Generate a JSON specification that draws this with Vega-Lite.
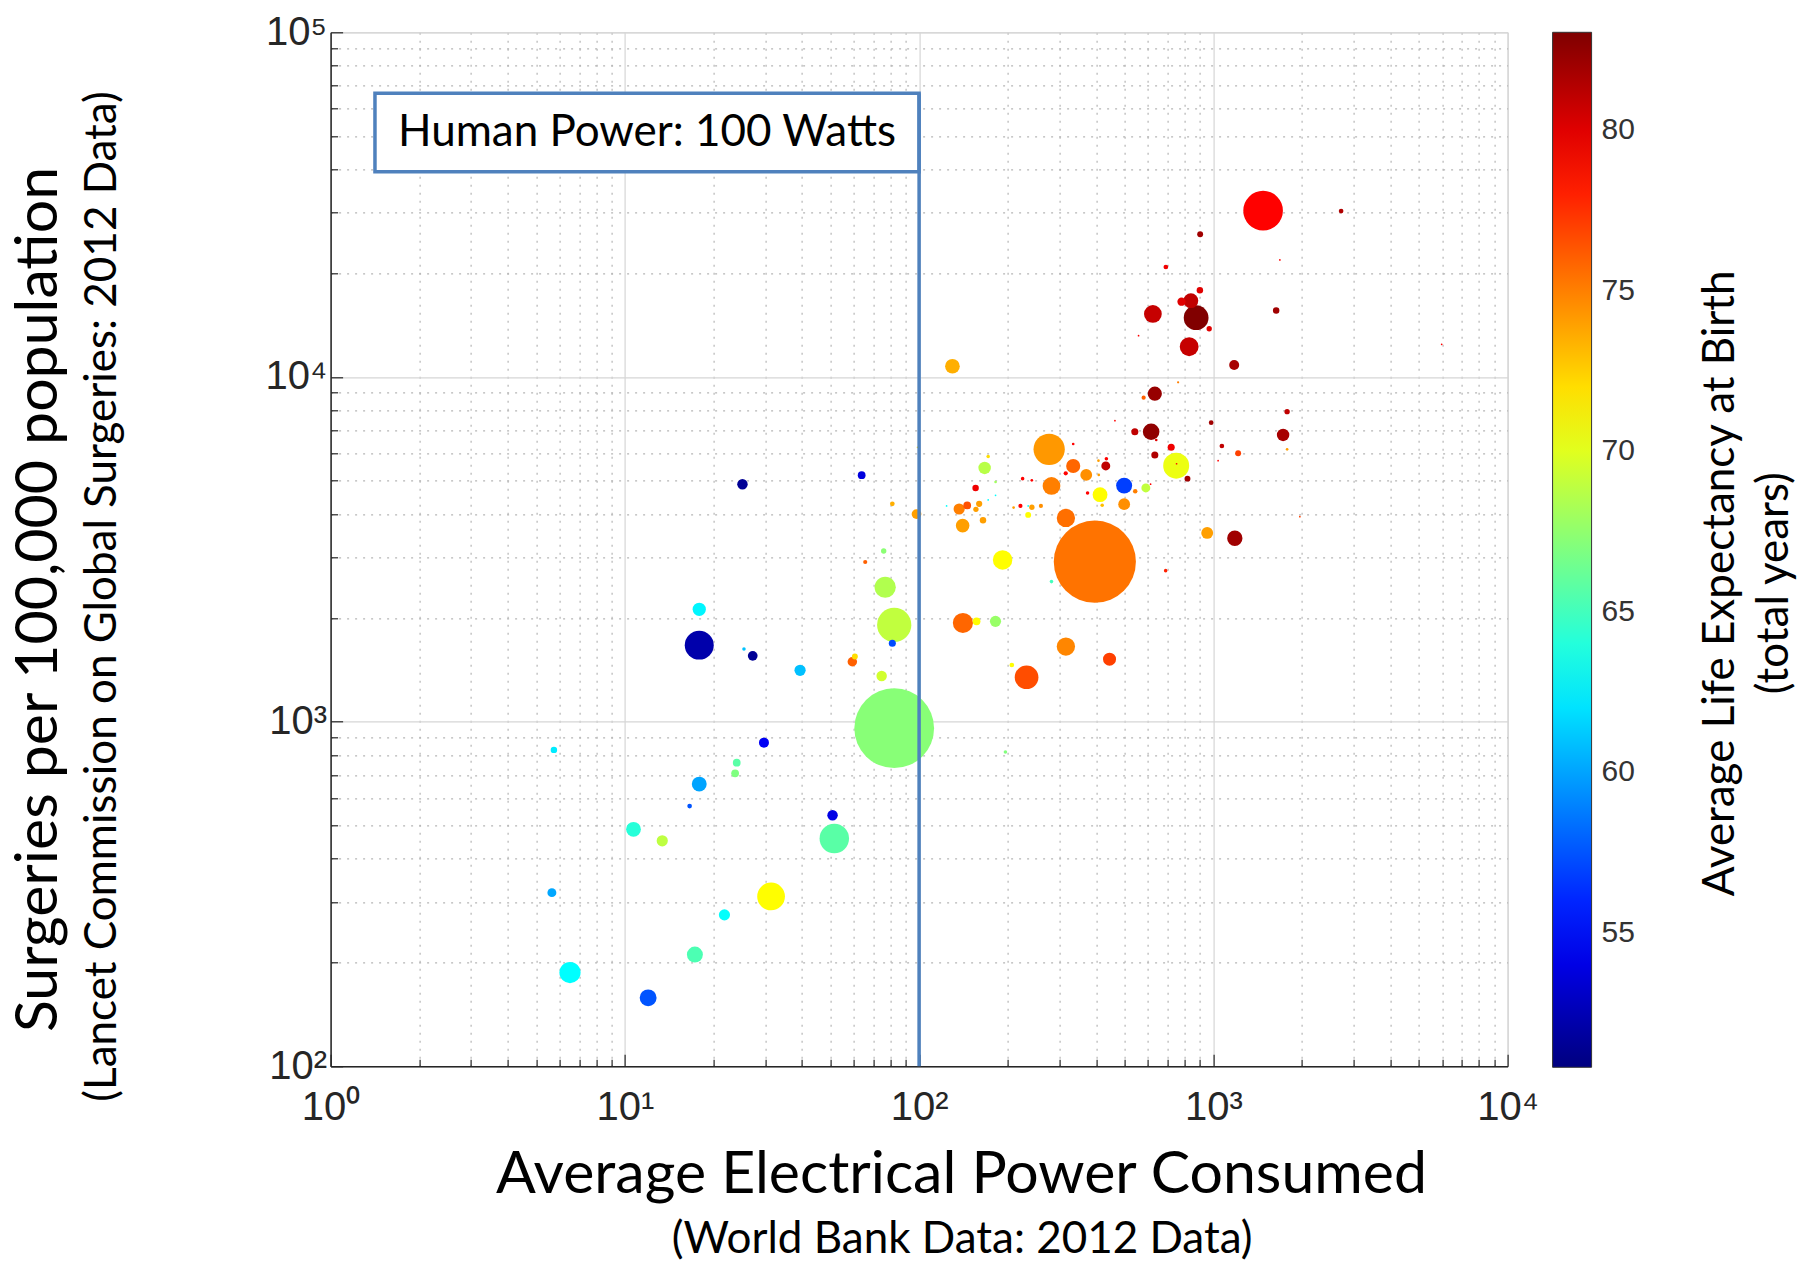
{
  "$schema": "https://vega.github.io/schema/vega-lite/v6.json",
  "width": 1177,
  "height": 1034,
  "autosize": "none",
  "padding": {"left": 330.6, "top": 32.3, "right": 298.4, "bottom": 195.4},
  "background": "white",
  "config": {
    "view": {"stroke": "#cfcfcf", "strokeWidth": 1},
    "font": "Lato"
  },
  "title": {
    "text": ["Average Life Expectancy at Birth", "(total years)"],
    "orient": "right", "anchor": "middle", "frame": "group",
    "angle": 270, "baseline": "alphabetic", "align": "center",
    "offset": 0, "dx": -34,
    "font": "Lato", "fontSize": 44, "fontWeight": "normal", "color": "black",
    "lineHeight": 54
  },
  "resolve": {"axis": {"x": "independent", "y": "independent"}},
  "layer": [
    {
      "data": {"values": [
        {"p":25.1,"s":4885,"le":51.5,"pop":22},
        {"p":63.8,"s":5188,"le":53.8,"pop":12},
        {"p":81.1,"s":4285,"le":73.5,"pop":4.4},
        {"p":98,"s":4000,"le":74,"pop":19},
        {"p":75.8,"s":3126,"le":67.3,"pop":5.7},
        {"p":65.6,"s":2905,"le":76,"pop":3.5},
        {"p":76.7,"s":2454,"le":68.5,"pop":90},
        {"p":82.3,"s":1908,"le":69,"pop":235},
        {"p":81.1,"s":1688,"le":57.2,"pop":10},
        {"p":17.9,"s":2118,"le":62.6,"pop":35},
        {"p":17.9,"s":1667,"le":52.2,"pop":168},
        {"p":25.4,"s":1625,"le":61,"pop":2.5},
        {"p":27.2,"s":1552,"le":51.5,"pop":19},
        {"p":39.4,"s":1409,"le":60.9,"pop":25},
        {"p":60.5,"s":1545,"le":72,"pop":7},
        {"p":59.3,"s":1492,"le":76,"pop":18},
        {"p":74.6,"s":1357,"le":69.5,"pop":22},
        {"p":82.3,"s":957,"le":67.2,"pop":1272},
        {"p":29.7,"s":869,"le":54.5,"pop":20},
        {"p":5.74,"s":828,"le":62.3,"pop":8.4},
        {"p":24,"s":760,"le":65.7,"pop":12},
        {"p":23.7,"s":708,"le":66.9,"pop":12},
        {"p":17.9,"s":659,"le":60,"pop":44},
        {"p":16.6,"s":569,"le":57.5,"pop":4.4},
        {"p":50.8,"s":535,"le":54,"pop":22},
        {"p":51.5,"s":458,"le":65.7,"pop":174},
        {"p":10.7,"s":487,"le":64.1,"pop":44},
        {"p":13.4,"s":451,"le":68.9,"pop":25},
        {"p":5.65,"s":319,"le":60.1,"pop":16},
        {"p":31.4,"s":311,"le":71,"pop":154},
        {"p":21.8,"s":275,"le":63,"pop":25},
        {"p":17.3,"s":211,"le":65.3,"pop":51},
        {"p":6.51,"s":187,"le":62.9,"pop":90},
        {"p":12.0,"s":158,"le":57.5,"pop":57},
        {"p":276.7,"s":6167,"le":74.2,"pop":196},
        {"p":334,"s":5518,"le":75.8,"pop":40},
        {"p":369.8,"s":5198,"le":74.5,"pop":28},
        {"p":334,"s":6390,"le":79,"pop":1.4},
        {"p":315,"s":5253,"le":79,"pop":3.5},
        {"p":431,"s":5518,"le":81,"pop":16},
        {"p":433,"s":5794,"le":79,"pop":2.5},
        {"p":407,"s":5717,"le":74,"pop":1.4},
        {"p":408,"s":5198,"le":74,"pop":1.4},
        {"p":281.8,"s":4828,"le":75,"pop":63},
        {"p":224.8,"s":5070,"le":79,"pop":2.5},
        {"p":241.6,"s":5012,"le":79,"pop":1.4},
        {"p":373.7,"s":4608,"le":79,"pop":2.5},
        {"p":412,"s":4556,"le":71,"pop":44},
        {"p":419,"s":4246,"le":73,"pop":2.5},
        {"p":497.6,"s":4839,"le":56.8,"pop":51},
        {"p":542.6,"s":4660,"le":75,"pop":4},
        {"p":589.6,"s":4764,"le":69,"pop":16},
        {"p":497.6,"s":4275,"le":74.5,"pop":28},
        {"p":747.6,"s":5529,"le":70.4,"pop":135},
        {"p":750,"s":5600,"le":79,"pop":0.6},
        {"p":816.8,"s":5070,"le":82,"pop":7},
        {"p":719,"s":6250,"le":79.5,"pop":10},
        {"p":632.6,"s":5939,"le":81.5,"pop":10},
        {"p":614.6,"s":6935,"le":82.5,"pop":55},
        {"p":541,"s":6935,"le":81,"pop":10},
        {"p":639.6,"s":6561,"le":80,"pop":1.4},
        {"p":463,"s":7466,"le":79,"pop":0.6},
        {"p":167,"s":5445,"le":68.7,"pop":31},
        {"p":171.7,"s":5874,"le":72,"pop":2.5},
        {"p":181.9,"s":4958,"le":68,"pop":1.4},
        {"p":155.6,"s":4764,"le":79.5,"pop":8.4},
        {"p":181.9,"s":4536,"le":63,"pop":0.6},
        {"p":171.7,"s":4399,"le":63,"pop":0.6},
        {"p":124,"s":4225,"le":63,"pop":0.6},
        {"p":136.8,"s":4140,"le":75,"pop":25},
        {"p":145.7,"s":4238,"le":76.5,"pop":12},
        {"p":156,"s":4131,"le":74,"pop":5.7},
        {"p":160,"s":4285,"le":74,"pop":7.7},
        {"p":140.6,"s":3705,"le":74,"pop":37},
        {"p":164.9,"s":3837,"le":74,"pop":8.4},
        {"p":221,"s":4225,"le":79,"pop":3.5},
        {"p":209.5,"s":4178,"le":74,"pop":1.4},
        {"p":234.8,"s":4225,"le":63,"pop":0.6},
        {"p":241.7,"s":4187,"le":74,"pop":5.7},
        {"p":259.4,"s":4225,"le":74.5,"pop":3.5},
        {"p":234.8,"s":3979,"le":71,"pop":7},
        {"p":315.4,"s":3899,"le":75.5,"pop":67},
        {"p":395.6,"s":2911,"le":75.4,"pop":1349},
        {"p":281.8,"s":2548,"le":65,"pop":2.5},
        {"p":192.2,"s":2945,"le":71,"pop":76},
        {"p":688.5,"s":2742,"le":78,"pop":2.5},
        {"p":140.9,"s":1933,"le":75.8,"pop":81},
        {"p":156.8,"s":1954,"le":71,"pop":12},
        {"p":181.8,"s":1954,"le":67.7,"pop":25},
        {"p":315.4,"s":1651,"le":74.8,"pop":67},
        {"p":443.8,"s":1518,"le":77,"pop":34},
        {"p":231.9,"s":1345,"le":76.6,"pop":112},
        {"p":206.6,"s":1460,"le":71,"pop":4.4},
        {"p":196.5,"s":816,"le":67,"pop":2.5},
        {"p":98.8,"s":6250,"le":72,"pop":0.6},
        {"p":612,"s":4885,"le":79,"pop":0.6},
        {"p":129.8,"s":10740,"le":73.5,"pop":43},
        {"p":1476,"s":30370,"le":79,"pop":314},
        {"p":2718,"s":30290,"le":81.5,"pop":4.4},
        {"p":902,"s":25940,"le":82,"pop":7},
        {"p":1683,"s":21850,"le":79,"pop":0.6},
        {"p":689.6,"s":20850,"le":79.5,"pop":4.4},
        {"p":900,"s":17850,"le":80,"pop":8.4},
        {"p":838.6,"s":16650,"le":81,"pop":44},
        {"p":779.5,"s":16530,"le":80,"pop":13.6},
        {"p":874,"s":14860,"le":83,"pop":123},
        {"p":968,"s":13800,"le":80,"pop":5.7},
        {"p":623,"s":15230,"le":80.8,"pop":63},
        {"p":827.6,"s":12240,"le":80.8,"pop":71},
        {"p":557,"s":13180,"le":79,"pop":0.6},
        {"p":1635,"s":15590,"le":82,"pop":8.4},
        {"p":1177,"s":10830,"le":81.8,"pop":20},
        {"p":632.6,"s":8946,"le":82.3,"pop":40},
        {"p":579.5,"s":8710,"le":76,"pop":3.5},
        {"p":759,"s":9652,"le":75,"pop":1},
        {"p":983,"s":7370,"le":82,"pop":4.4},
        {"p":1781,"s":7930,"le":81,"pop":5.7},
        {"p":1726,"s":6790,"le":81.8,"pop":31},
        {"p":1781,"s":6167,"le":74,"pop":1.4},
        {"p":1069,"s":6305,"le":81,"pop":4.4},
        {"p":1214,"s":6005,"le":77,"pop":7},
        {"p":1038,"s":5717,"le":79,"pop":0.6},
        {"p":1968,"s":3933,"le":77,"pop":0.6},
        {"p":953,"s":3527,"le":74,"pop":28},
        {"p":1183,"s":3404,"le":82,"pop":47},
        {"p":5970,"s":12440,"le":79,"pop":0.6}
      ]},
      "mark": {"type": "circle", "opacity": 1, "strokeWidth": 0},
      "encoding": {
        "x": {
          "field": "p", "type": "quantitative",
          "scale": {"type": "log", "domain": [1, 10000], "nice": false},
          "axis": {
            "orient": "bottom",
            "title": "Average Electrical Power Consumed",
            "titleFont": "Lato", "titleFontSize": 59, "titleFontWeight": "normal", "titleColor": "black",
            "titleX": 630.4, "titleY": 126.4, "titleBaseline": "alphabetic", "titleAlign": "center",
            "values": [1,2,3,4,5,6,7,8,9,10,20,30,40,50,60,70,80,90,100,200,300,400,500,600,700,800,900,1000,2000,3000,4000,5000,6000,7000,8000,9000,10000],
            "labelExpr": "abs(log(datum.value)/LN10 - round(log(datum.value)/LN10)) < 0.001 ? '10' + ['⁰','¹','²','³','⁴','⁵'][round(log(datum.value)/LN10)] : ''",
            "labelFont": "Liberation Sans", "labelFontSize": 40, "labelColor": "#262626",
            "labelPadding": 33, "labelFlush": false, "labelOverlap": false, "labelBound": false,
            "domainColor": "#262626", "domainWidth": 1.5,
            "tickColor": "#262626", "tickWidth": 1.2,
            "tickSize": {"condition": {"test": "abs(log(datum.value)/LN10 - round(log(datum.value)/LN10)) < 0.001", "value": -12}, "value": -7},
            "grid": true,
            "gridColor": {"condition": {"test": "abs(log(datum.value)/LN10 - round(log(datum.value)/LN10)) < 0.001", "value": "#d6d6d6"}, "value": "#b5b5b5"},
            "gridDash": {"condition": {"test": "abs(log(datum.value)/LN10 - round(log(datum.value)/LN10)) < 0.001", "value": []}, "value": [2, 6]},
            "gridWidth": 1.2
          }
        },
        "y": {
          "field": "s", "type": "quantitative",
          "scale": {"type": "log", "domain": [100, 100000], "nice": false},
          "axis": {
            "orient": "left",
            "title": "Surgeries per 100,000 population",
            "titleFont": "Lato", "titleFontSize": 59, "titleFontWeight": "normal", "titleColor": "black",
            "titleX": -274, "titleY": 566.7, "titleAngle": 270, "titleBaseline": "alphabetic", "titleAlign": "center",
            "values": [100,200,300,400,500,600,700,800,900,1000,2000,3000,4000,5000,6000,7000,8000,9000,10000,20000,30000,40000,50000,60000,70000,80000,90000,100000],
            "labelExpr": "abs(log(datum.value)/LN10 - round(log(datum.value)/LN10)) < 0.001 ? '10' + ['⁰','¹','²','³','⁴','⁵'][round(log(datum.value)/LN10)] : ''",
            "labelFont": "Liberation Sans", "labelFontSize": 40, "labelColor": "#262626",
            "labelPadding": 16, "labelFlush": false, "labelOverlap": false, "labelBound": false,
            "domainColor": "#262626", "domainWidth": 1.5,
            "tickColor": "#262626", "tickWidth": 1.2,
            "tickSize": {"condition": {"test": "abs(log(datum.value)/LN10 - round(log(datum.value)/LN10)) < 0.001", "value": -12}, "value": -7},
            "grid": true,
            "gridColor": {"condition": {"test": "abs(log(datum.value)/LN10 - round(log(datum.value)/LN10)) < 0.001", "value": "#d6d6d6"}, "value": "#b5b5b5"},
            "gridDash": {"condition": {"test": "abs(log(datum.value)/LN10 - round(log(datum.value)/LN10)) < 0.001", "value": []}, "value": [2, 6]},
            "gridWidth": 1.2
          }
        },
        "size": {
          "field": "pop", "type": "quantitative",
          "scale": {"type": "linear", "domain": [0, 1400], "range": [0, 7000], "zero": true},
          "legend": null
        },
        "color": {
          "field": "le", "type": "quantitative",
          "scale": {
            "domain": [50.8, 54.83, 62.89, 70.96, 79.02, 83.05],
            "range": ["#00007f", "#0000ff", "#00ffff", "#ffff00", "#ff0000", "#7f0000"],
            "interpolate": "rgb"
          },
          "legend": {
            "orient": "none", "legendX": 1222, "legendY": 0,
            "direction": "vertical",
            "gradientLength": 1035, "gradientThickness": 39,
            "gradientStrokeColor": "#333333", "gradientStrokeWidth": 1,
            "values": [55, 60, 65, 70, 75, 80],
            "labelFont": "Liberation Sans", "labelFontSize": 30, "labelColor": "#333333",
            "labelOffset": 10, "labelOverlap": false,
            "title": null
          }
        },
        "order": {"field": "pop", "type": "quantitative", "sort": "descending"}
      }
    },
    {
      "data": {"values": [{"label": "Human Power: 100 Watts", "xl": 1.415, "xr": 100, "ytop": 66530, "ybot": 39410, "yfloor": 100, "xt": 11.89, "yt": 51000}]},
      "mark": {"type": "rect", "fill": "white", "stroke": "#4f81bd", "strokeWidth": 3.5},
      "encoding": {
        "x": {
          "field": "xl", "type": "quantitative",
          "scale": {"type": "log", "domain": [1, 10000], "nice": false},
          "axis": {
            "orient": "bottom", "title": "(World Bank Data: 2012 Data)",
            "labels": false, "ticks": false, "domain": false, "grid": false,
            "titleFont": "Lato", "titleFontSize": 44, "titleFontWeight": "normal", "titleColor": "black",
            "titleX": 631, "titleY": 186, "titleBaseline": "alphabetic", "titleAlign": "center"
          }
        },
        "x2": {"field": "xr"},
        "y": {
          "field": "ytop", "type": "quantitative",
          "scale": {"type": "log", "domain": [100, 100000], "nice": false},
          "axis": {
            "orient": "left", "title": "(Lancet Commission on Global Surgeries: 2012 Data)",
            "labels": false, "ticks": false, "domain": false, "grid": false,
            "titleFont": "Lato", "titleFontSize": 44, "titleFontWeight": "normal", "titleColor": "black",
            "titleX": -215.6, "titleY": 563.7, "titleAngle": 270, "titleBaseline": "alphabetic", "titleAlign": "center"
          }
        },
        "y2": {"field": "ybot"}
      }
    },
    {
      "data": {"values": [{"label": "Human Power: 100 Watts", "xl": 1.415, "xr": 100, "ytop": 66530, "ybot": 39410, "yfloor": 100, "xt": 11.89, "yt": 51000}]},
      "mark": {"type": "rule", "color": "#4f81bd", "strokeWidth": 3.5},
      "encoding": {
        "x": {"field": "xr", "type": "quantitative", "scale": {"type": "log", "domain": [1, 10000], "nice": false}, "axis": null},
        "y": {"field": "ytop", "type": "quantitative", "scale": {"type": "log", "domain": [100, 100000], "nice": false}, "axis": null},
        "y2": {"field": "yfloor"}
      }
    },
    {
      "data": {"values": [{"label": "Human Power: 100 Watts", "xl": 1.415, "xr": 100, "ytop": 66530, "ybot": 39410, "yfloor": 100, "xt": 11.89, "yt": 51000}]},
      "mark": {"type": "text", "font": "Lato", "fontSize": 44, "color": "black", "align": "center", "baseline": "middle"},
      "encoding": {
        "x": {"field": "xt", "type": "quantitative", "scale": {"type": "log", "domain": [1, 10000], "nice": false}, "axis": null},
        "y": {"field": "yt", "type": "quantitative", "scale": {"type": "log", "domain": [100, 100000], "nice": false}, "axis": null},
        "text": {"field": "label"}
      }
    }
  ]
}
